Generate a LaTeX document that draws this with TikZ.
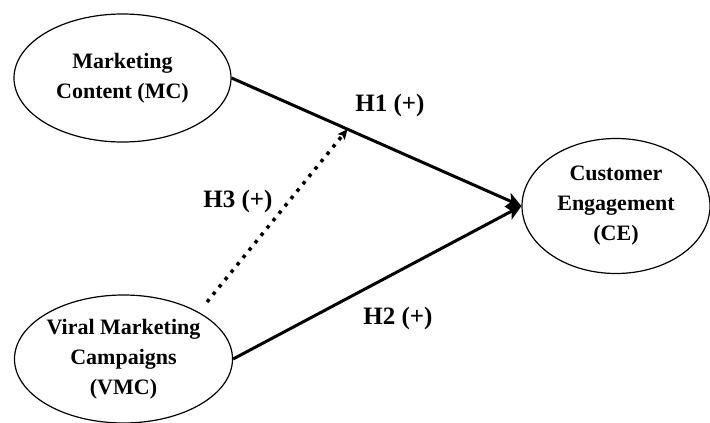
\documentclass[tikz,border=0pt]{standalone}
\usepackage{fontspec}
\setmainfont{Liberation Serif}
\usetikzlibrary{positioning,arrows.meta,shapes.geometric}

\begin{document}
\begin{tikzpicture}[
  x=1pt, y=-1pt,
  construct/.style={draw, ellipse, line width=1.2pt, align=center, inner sep=0pt,
                    font=\fontsize{22}{30}\selectfont\bfseries},
  path arr/.style={-{Stealth[length=15pt, width=15pt, inset=4pt]}, line width=3pt},
  mod arr/.style={-{Stealth[length=10pt, width=9pt, inset=2pt]}, line width=3.5pt,
                  dash pattern=on 3.5pt off 6pt},
  hyp/.style={font=\fontsize{25}{30}\selectfont\bfseries}
]
\useasboundingbox (0,0) rectangle (710,423);
% constructs
\node[construct, minimum width=217pt, minimum height=128pt] (mc) at (122.5,78)
  {Marketing\\ Content (MC)};
\node[construct, minimum width=218pt, minimum height=128pt] (vmc) at (123.5,359)
  {Viral Marketing\\ Campaigns\\ (VMC)};
\node[construct, minimum width=188pt, minimum height=135pt] (ce) at (616,206)
  {Customer\\ Engagement\\ (CE)};
% direct paths
\draw[path arr] (mc.east) -- coordinate[pos=0.4] (h1pt) (ce.west);
\draw[path arr] (vmc.east) -- (ce.west);
% moderation
\coordinate (h3start) at (207,302);
\draw[mod arr] (h3start) -- (h1pt);
% hypothesis labels
\node[hyp] (h1) at (390,105) {H1 (+)};
\node[hyp] (h2) at (398,318) {H2 (+)};
\node[hyp] (h3) at (238,201) {H3 (+)};
\end{tikzpicture}
\end{document}
